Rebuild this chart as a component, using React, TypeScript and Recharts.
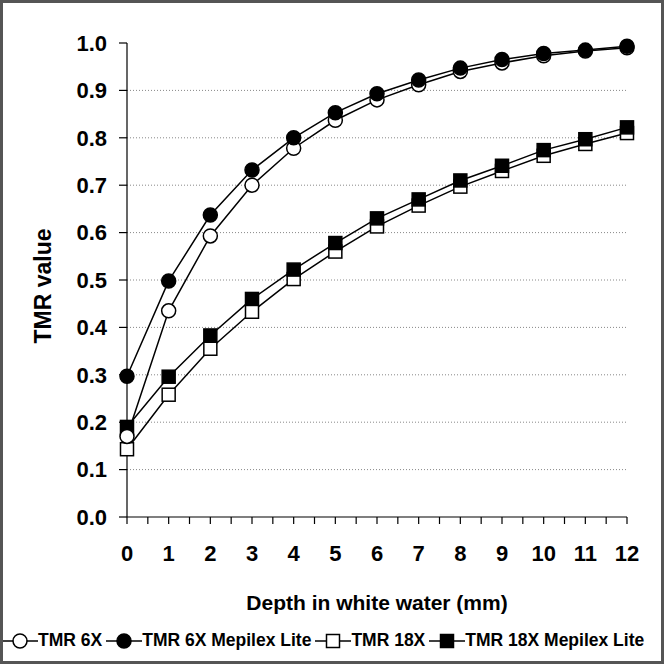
import { LineChart, Line, XAxis, YAxis, CartesianGrid, Legend, ReferenceLine } from 'recharts';

const depths = [0, 1, 2, 3, 4, 5, 6, 7, 8, 9, 10, 11, 12];
const tmr6x = [0.17, 0.435, 0.593, 0.7, 0.778, 0.837, 0.88, 0.912, 0.94, 0.958, 0.973, 0.983, 0.99];
const tmr6xMepilex = [0.297, 0.498, 0.637, 0.732, 0.8, 0.853, 0.893, 0.922, 0.947, 0.965, 0.978, 0.985, 0.993];
const tmr18x = [0.143, 0.258, 0.355, 0.433, 0.502, 0.56, 0.613, 0.657, 0.697, 0.73, 0.762, 0.787, 0.81];
const tmr18xMepilex = [0.19, 0.296, 0.383, 0.46, 0.522, 0.578, 0.63, 0.67, 0.71, 0.741, 0.774, 0.797, 0.822];

const xTicks = [0, 0.5, 1, 1.5, 2, 2.5, 3, 3.5, 4, 4.5, 5, 5.5, 6, 6.5, 7, 7.5, 8, 8.5, 9, 9.5, 10, 10.5, 11, 11.5, 12];
const yTicks = [0, 0.1, 0.2, 0.3, 0.4, 0.5, 0.6, 0.7, 0.8, 0.9, 1.0];
const gridValues = [0.1, 0.2, 0.3, 0.4, 0.5, 0.6, 0.7, 0.8, 0.9];

const data = depths.map((d, i) => ({
  depth: d,
  tmr6x: tmr6x[i],
  tmr6xM: tmr6xMepilex[i],
  tmr18x: tmr18x[i],
  tmr18xM: tmr18xMepilex[i],
}));

const FONT = '"Liberation Sans", Arial, sans-serif';

// marker shapes
const Marker = ({ cx, cy, shape, filled }: any) => {
  if (cx == null || cy == null) return null;
  const fill = filled ? '#000' : '#fff';
  if (shape === 'circle') {
    return <circle cx={cx} cy={cy} r={7} fill={fill} stroke="#000" strokeWidth={1.5} />;
  }
  return <rect x={cx - 6.5} y={cy - 6.5} width={13} height={13} fill={fill} stroke="#000" strokeWidth={1.5} />;
};

const series = [
  { key: 'tmr18x', name: 'TMR 18X', shape: 'square', filled: false },
  { key: 'tmr18xM', name: 'TMR 18X Mepilex Lite', shape: 'square', filled: true },
  { key: 'tmr6x', name: 'TMR 6X', shape: 'circle', filled: false },
  { key: 'tmr6xM', name: 'TMR 6X Mepilex Lite', shape: 'circle', filled: true },
];
const legendOrder = ['tmr6x', 'tmr6xM', 'tmr18x', 'tmr18xM'];

const XTick = ({ x, y, payload }: any) => {
  const v = payload.value;
  const major = Number.isInteger(v);
  return (
    <g>
      <line x1={x} y1={y - 8} x2={x} y2={y - 1} stroke="#000" strokeWidth={1.2} />
      {major && (
        <text x={x} y={y + 36} textAnchor="middle" fontSize={22} fontWeight="bold" fill="#000" fontFamily={FONT}>
          {v}
        </text>
      )}
    </g>
  );
};

const renderLegend = () => (
  <div
    style={{
      display: 'flex',
      alignItems: 'center',
      fontFamily: FONT,
      fontWeight: 'bold',
      fontSize: 17.5,
      color: '#000',
      whiteSpace: 'nowrap',
      paddingLeft: 2,
    }}
  >
    {legendOrder.map((k) => {
      const s = series.find((x) => x.key === k)!;
      return (
        <div key={k} style={{ display: 'flex', alignItems: 'center', marginRight: 4 }}>
          <svg width={36} height={16}>
            <line x1={0} y1={8} x2={36} y2={8} stroke="#000" strokeWidth={1.5} />
            <Marker cx={18} cy={8} shape={s.shape} filled={s.filled} />
          </svg>
          <span>{s.name}</span>
        </div>
      );
    })}
  </div>
);

export default function App() {
  return (
    <div
      style={{
        position: 'fixed',
        left: 0,
        top: 0,
        width: 664,
        height: 664,
        boxSizing: 'border-box',
        border: '3px solid #555',
        background: '#fff',
        overflow: 'hidden',
      }}
    >
      <div style={{ position: 'absolute', left: -3, top: -3 }}>
        <LineChart width={664} height={664} data={data} margin={{ top: 43, right: 37, left: 0, bottom: 10 }}>
          <CartesianGrid horizontal={false} vertical={false} />
          {gridValues.map((g) => (
            <ReferenceLine key={g} y={g} stroke="#888" strokeDasharray="1 2" strokeWidth={1} />
          ))}
          <XAxis
            dataKey="depth"
            type="number"
            domain={[0, 12]}
            ticks={xTicks}
            interval={0}
            height={113}
            axisLine={{ stroke: '#000', strokeWidth: 1.2 }}
            tickLine={false}
            tick={<XTick />}
            label={{
              value: 'Depth in white water (mm)',
              position: 'insideBottom',
              offset: 20,
              style: { fontSize: 21, fontWeight: 'bold', fill: '#000', fontFamily: FONT },
            }}
          />
          <YAxis
            type="number"
            domain={[0, 1]}
            ticks={yTicks}
            interval={0}
            width={127}
            axisLine={{ stroke: '#000', strokeWidth: 1.2 }}
            tickLine={{ stroke: '#000', strokeWidth: 1.2 }}
            tickSize={8}
            tickMargin={12}
            tickFormatter={(v: number) => v.toFixed(1)}
            tick={{ fontSize: 22, fontWeight: 'bold', fill: '#000', fontFamily: FONT }}
            label={{
              value: 'TMR value',
              angle: -90,
              position: 'center',
              dx: -21,
              dy: 6,
              style: { fontSize: 23, fontWeight: 'bold', fill: '#000', fontFamily: FONT, textAnchor: 'middle' },
            }}
          />
          <Legend verticalAlign="bottom" align="left" content={renderLegend} height={24} />
          {series.map((s) => (
            <Line
              key={s.key}
              dataKey={s.key}
              name={s.name}
              stroke="#000"
              strokeWidth={1.5}
              isAnimationActive={false}
              dot={(p: any) => <Marker key={`${s.key}-${p.index}`} cx={p.cx} cy={p.cy} shape={s.shape} filled={s.filled} />}
              activeDot={false}
            />
          ))}
        </LineChart>
      </div>
    </div>
  );
}
